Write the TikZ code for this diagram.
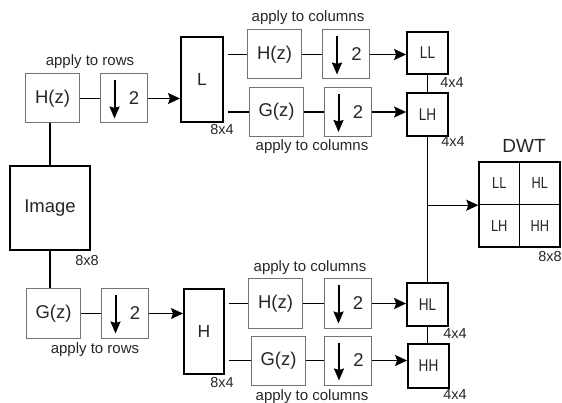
\documentclass[tikz,border=0pt]{standalone}
\usepackage{fontspec}
\setmainfont{Liberation Sans}
\newfontfamily\condfont[FakeStretch=0.8]{Liberation Sans}
\usetikzlibrary{arrows.meta}
\begin{document}
\begin{tikzpicture}[x=1pt,y=-1pt,
  txt/.style={inner sep=0pt, text=black!85},
  filt/.style={draw=black!55, line width=1pt, rectangle, inner sep=0pt,
    minimum width=54pt, minimum height=49pt, text=black!85,
    font=\fontsize{18.5}{20}\selectfont},
  dsbox/.style={draw=black!55, line width=1pt, rectangle, inner sep=0pt,
    minimum width=47pt, minimum height=49pt},
  two/.style={txt, font=\fontsize{18.5}{20}\selectfont},
  big/.style={draw=black, line width=2pt, rectangle, inner sep=0pt,
    text=black!85, font=\fontsize{17.5}{19}\selectfont},
  sub/.style={draw=black, line width=1.8pt, rectangle, inner sep=0pt,
    minimum width=41pt, minimum height=43pt, text=black!85,
    font=\condfont\fontsize{17}{19}\selectfont},
  cell/.style={draw=black, line width=1.4pt, rectangle, inner sep=0pt,
    minimum width=40.5pt, minimum height=42.5pt, text=black!85,
    font=\condfont\fontsize{16}{18}\selectfont},
  apply/.style={txt, font=\fontsize{15}{17}\selectfont},
  size/.style={txt, font=\fontsize{14.5}{16}\selectfont},
  conn/.style={line width=1.3pt, black},
  arr/.style={conn, -{Stealth[length=12pt,width=11pt,inset=2pt]}},
  dn/.style={line width=2pt, black, -{Stealth[length=12pt,width=10pt,inset=1.5pt]}}
]
\useasboundingbox (0,0) rectangle (562,403);

% first stage
\node[filt] (hz1) at (52.5,98.5) {H(z)};
\node[dsbox] (ds1) at (123.5,98.5) {};
\node[big, minimum width=42pt, minimum height=85pt] (L) at (202,79.5) {L};
\node[big, minimum width=80pt, minimum height=84pt, font=\fontsize{18.5}{20}\selectfont] (img) at (50,208) {Image};
\node[filt] (gz1) at (53.5,313.5) {G(z)};
\node[dsbox] (ds2) at (124.5,313.5) {};
\node[big, minimum width=40pt, minimum height=85pt] (H) at (204,331.5) {H};

% second stage
\node[filt] (hz2) at (274.5,54.5) {H(z)};
\node[dsbox] (ds3) at (346,54.5) {};
\node[sub, minimum height=42pt] (LL) at (427.5,53) {LL};
\node[filt] (gz2) at (276.5,112) {G(z)};
\node[dsbox] (ds4) at (347.5,112) {};
\node[sub] (LH) at (427.5,114.5) {LH};
\node[filt] (hz3) at (275.5,303.5) {H(z)};
\node[dsbox] (ds5) at (347.5,303.5) {};
\node[sub] (HL) at (427.5,304.5) {HL};
\node[filt] (gz3) at (278.5,360.5) {G(z)};
\node[dsbox] (ds6) at (348,360.5) {};
\node[sub, minimum height=44pt] (HH) at (428.5,366) {HH};

% DWT grid
\node[cell] (dLL) at (499.25,183.25) {LL};
\node[cell] (dHL) at (539.75,183.25) {HL};
\node[cell] (dLH) at (499.25,225.75) {LH};
\node[cell] (dHH) at (539.75,225.75) {HH};
\node[txt, font=\fontsize{19}{21}\selectfont] (dwt) at (524,146) {DWT};

% downsampler contents
\foreach \d in {ds1,ds2,ds3,ds4,ds5,ds6}{
  \draw[dn] ([xshift=15pt,yshift=-7pt]\d.north west) -- ([xshift=15pt,yshift=5pt]\d.south west);
  \node[two] (\d t) at ([xshift=-13.5pt]\d.east) {2};
}

% connectors
\draw[conn] (hz1.east) -- (ds1.west);
\draw[arr] (ds1.east) -- (ds1.east -| L.west);
\draw[conn] (img.north) -- (img.north |- hz1.south);
\draw[conn] (img.south) -- (img.south |- gz1.north);
\draw[conn] (gz1.east) -- (ds2.west);
\draw[arr] (ds2.east) -- (ds2.east -| H.west);

\draw[conn, shorten <=4pt] (L.east |- hz2.west) -- (hz2.west);
\draw[conn, shorten <=4pt] (L.east |- gz2.west) -- (gz2.west);
\draw[conn, shorten <=4pt] (H.east |- hz3.west) -- (hz3.west);
\draw[conn, shorten <=4pt] (H.east |- gz3.west) -- (gz3.west);

\draw[conn] (hz2.east) -- (ds3.west);
\draw[conn] (gz2.east) -- (ds4.west);
\draw[conn] (hz3.east) -- (ds5.west);
\draw[conn] (gz3.east) -- (ds6.west);

\draw[arr] (ds3.east) -- (ds3.east -| LL.west);
\draw[arr] (ds4.east) -- (ds4.east -| LH.west);
\draw[arr] (ds5.east) -- (ds5.east -| HL.west);
\draw[arr] (ds6.east) -- (ds6.east -| HH.west);

\draw[conn] (LL.south) -- (LH.north);
\draw[conn] (LH.south) -- (HL.north);
\draw[conn] (HL.south) -- (HL.south |- HH.north);
\coordinate (br) at (LH.south |- dLL.south west);
\draw[arr] (br) -- (dLL.south west);

% labels
\node[apply] (a1) at (90,62) {apply to rows};
\node[apply] (a2) at (95,350) {apply to rows};
\node[apply] (a3) at (308,18) {apply to columns};
\node[apply] (a4) at (312,147) {apply to columns};
\node[apply] (a5) at (310,268) {apply to columns};
\node[apply] (a6) at (312,397) {apply to columns};

\node[size] (s1) at (222,130) {8x4};
\node[size] (s2) at (222,383) {8x4};
\node[size] (s3) at (87,261) {8x8};
\node[size] (s4) at (452,83) {4x4};
\node[size] (s5) at (453,142) {4x4};
\node[size] (s6) at (455,334) {4x4};
\node[size] (s7) at (455,394.5) {4x4};
\node[size] (s8) at (550,257) {8x8};
\end{tikzpicture}
\end{document}
